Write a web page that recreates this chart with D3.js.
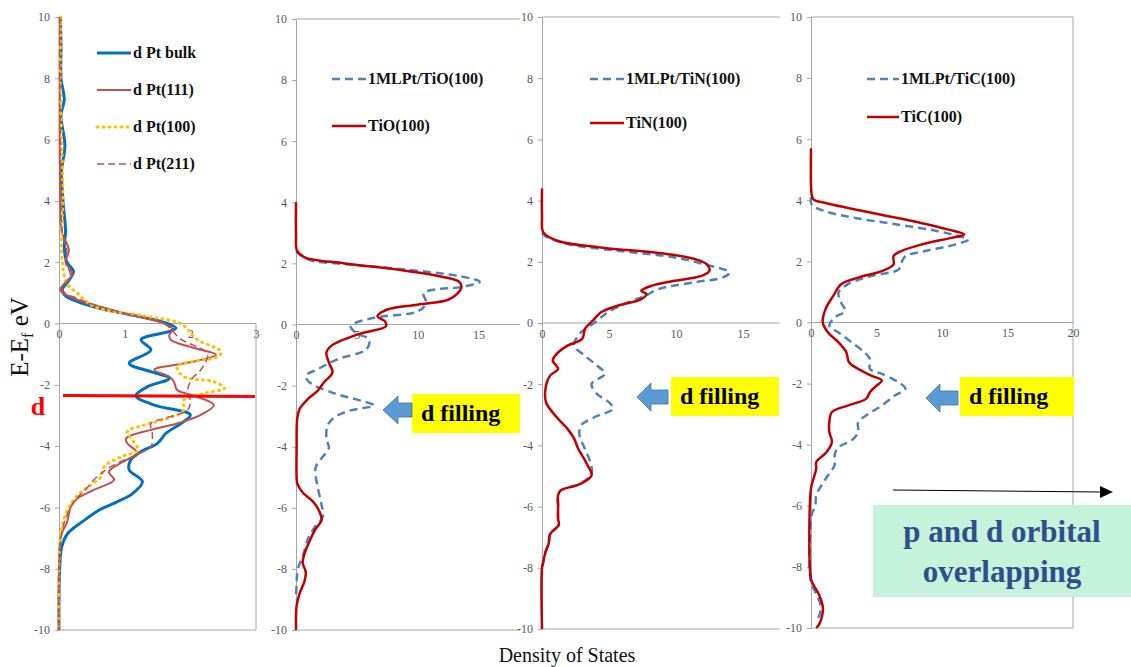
<!DOCTYPE html>
<html>
<head>
<meta charset="utf-8">
<script src="https://cdn.jsdelivr.net/npm/d3@7"></script>
<style>
  body { margin: 0; background: #fff; }
</style>
</head>
<body>
<svg id="chart" width="1131" height="667" font-family="Liberation Serif"></svg>
<script>
// ---- data (energy E-Ef in eV, density of states) ----
const energyTicks = [-10, -8, -6, -4, -2, 0, 2, 4, 6, 8, 10];
const ptTicks = [0, 1, 2, 3];
const tiTicks = [0, 5, 10, 15];
const ticTicks = [0, 5, 10, 15, 20];

const ptBulkE = [10, 9, 8, 7.3, 6.8, 5.8, 5, 4, 3, 2.5, 2, 1.7, 1.4, 1.1, 0.9, 0.7, 0.5, 0.3, 0.1, 0, -0.15, -0.26, -0.53, -0.86, -1.3, -1.57, -1.79, -2.06, -2.36, -2.66, -2.98, -3.26, -3.58, -3.91, -4.18, -4.46, -4.78, -5.16, -5.55, -5.85, -6.1, -6.43, -6.86, -7.3, -8, -9, -10];
const ptBulkD = [0.02, 0.03, 0.03, 0.08, 0.03, 0.09, 0.04, 0.06, 0.1, 0.08, 0.12, 0.22, 0.15, 0.05, 0.1, 0.3, 0.62, 1.05, 1.5, 1.65, 1.78, 1.68, 1.25, 1.4, 1.07, 1.4, 1.68, 1.35, 1.17, 1.45, 2.0, 1.86, 1.63, 1.5, 1.25, 1.09, 1.07, 1.27, 1.12, 0.85, 0.6, 0.38, 0.13, 0.04, 0.01, 0, 0];

const pt111E = [10, 8, 6, 4, 3, 2.4, 2, 1.6, 1.1, 0.8, 0.5, 0.2, 0, -0.19, -0.37, -0.53, -0.8, -1.02, -1.24, -1.51, -1.73, -1.9, -2.17, -2.36, -2.66, -2.98, -3.26, -3.47, -3.75, -3.91, -4.24, -4.46, -4.84, -5.1, -5.43, -5.71, -5.98, -6.5, -6.8, -7.2, -8, -10];
const pt111D = [0.01, 0.01, 0.01, 0.02, 0.04, 0.15, 0.1, 0.2, 0.02, 0.25, 0.7, 1.25, 1.6, 1.73, 1.68, 1.7, 2.06, 2.39, 2.06, 1.45, 1.68, 1.75, 1.8, 2.06, 2.36, 2.16, 1.8, 1.4, 1.02, 1.04, 1.2, 1.02, 0.76, 0.84, 0.53, 0.28, 0.18, 0.12, 0.05, 0.01, 0, 0];

const pt100E = [10, 8, 6, 4, 3, 2, 1.3, 0.99, 0.56, 0.23, 0, -0.2, -0.53, -0.92, -1.08, -1.4, -1.73, -1.9, -2.11, -2.28, -2.5, -2.82, -3.1, -3.31, -3.53, -3.8, -4.13, -4.35, -4.67, -5.0, -5.43, -5.87, -6.5, -7, -8, -10];
const pt100D = [0.03, 0.02, 0.04, 0.06, 0.04, 0.05, 0.12, 0.28, 0.53, 1.35, 1.86, 1.96, 2.11, 2.47, 2.42, 1.8, 1.9, 2.36, 2.52, 2.21, 1.9, 1.9, 1.65, 1.3, 1.04, 1.12, 1.2, 0.94, 0.69, 0.64, 0.38, 0.18, 0.06, 0.02, 0, 0];

const pt211E = [10, 8, 6, 4, 3, 2.4, 2, 1.6, 1.1, 0.8, 0.5, 0.2, 0, -0.5, -1.0, -1.51, -1.79, -2.17, -2.5, -2.82, -3.1, -3.26, -3.58, -4.02, -4.24, -4.67, -5.0, -5.43, -5.8, -6.5, -7, -8, -10];
const pt211D = [0.01, 0.01, 0.02, 0.03, 0.05, 0.12, 0.1, 0.17, 0.05, 0.3, 0.72, 1.25, 1.6, 1.85, 2.26, 2.16, 2.03, 1.96, 2.0, 1.96, 1.6, 1.4, 1.42, 1.4, 1.22, 0.79, 0.58, 0.4, 0.23, 0.08, 0.03, 0, 0];

const tioE = [4, 3, 2.4, 2.2, 2.0, 1.78, 1.57, 1.4, 1.24, 1.03, 0.81, 0.65, 0.49, 0.27, 0.11, -0.05, -0.32, -0.7, -0.92, -1.24, -1.57, -1.89, -2.16, -2.43, -2.76, -3.08, -4, -5, -5.2, -5.5, -5.8, -6.1, -6.4, -6.7, -7.1, -7.5, -7.8, -8.1, -8.4, -8.8, -9.2, -10];
const tioD = [0, 0, 0.1, 0.7, 4, 8.6, 11.9, 13.4, 13.6, 13.3, 12.5, 10, 7.5, 6.7, 7.3, 7.4, 5.1, 2.9, 2.5, 2.7, 3.0, 2.3, 1.8, 1.0, 0.3, 0.1, 0.05, 0.05, 0.1, 0.55, 1.4, 1.9, 2.1, 1.6, 1.1, 0.7, 0.55, 0.8, 0.7, 0.3, 0.05, 0];
const ptTioE = [2.4, 2.1, 2.0, 1.78, 1.57, 1.4, 1.24, 1.03, 0.7, 0.43, 0.22, -0.05, -0.27, -0.49, -0.81, -1.14, -1.46, -1.68, -1.89, -2.22, -2.49, -2.65, -2.81, -3.03, -3.3, -3.73, -4.05, -4.38, -4.7, -5.35, -5.9, -6.3, -6.6, -7, -7.6, -8, -8.5, -9];
const ptTioD = [0, 1.2, 3.4, 9.5, 13.6, 15.1, 13.8, 10.5, 10.7, 10, 6.4, 4.5, 4.9, 6.0, 5.8, 3.4, 1.8, 0.8, 1.1, 2.9, 5.3, 6.4, 4.5, 3.2, 2.6, 2.5, 2.7, 2.1, 1.6, 1.8, 2.1, 2.2, 1.6, 1.0, 0.55, 0.15, 0.05, 0];

const tinE = [4.4, 3.5, 2.96, 2.68, 2.47, 2.25, 2.09, 1.92, 1.71, 1.54, 1.38, 1.22, 1.05, 0.95, 0.78, 0.57, 0.35, 0.13, 0, -0.2, -0.52, -0.74, -1.01, -1.23, -1.5, -1.72, -2.04, -2.59, -3.13, -3.46, -3.78, -4.11, -4.33, -4.65, -4.98, -5.25, -5.47, -5.63, -5.96, -6.4, -6.6, -6.9, -7.2, -7.5, -7.8, -8, -10];
const tinD = [0, 0, 0.1, 1.2, 4.4, 9.4, 11.4, 12.3, 12.5, 11.9, 9.9, 8.2, 7.4, 7.8, 7.4, 5.7, 4.4, 3.9, 3.6, 3.2, 3.0, 1.9, 1.1, 0.8, 1.2, 0.6, 0.3, 0.3, 1.2, 1.9, 2.4, 2.7, 3.0, 3.4, 3.7, 2.9, 1.4, 1.2, 1.2, 1.2, 1.25, 0.6, 0.5, 0.25, 0.1, 0, 0];
const ptTinE = [2.95, 2.85, 2.58, 2.36, 2.14, 1.92, 1.65, 1.49, 1.33, 1.11, 0.89, 0.67, 0.35, 0, -0.2, -0.41, -0.74, -1.07, -1.39, -1.66, -1.99, -2.32, -2.59, -2.8, -3.08, -3.35, -3.67, -4.11, -4.54, -4.9, -5.25, -5.47, -5.63, -5.96, -6.4, -6.6, -6.9, -7.2, -7.5, -7.8, -8];
const ptTinD = [0, 0.2, 1.9, 5.7, 9.9, 12.1, 14.0, 13.5, 11.4, 8.7, 7.7, 6.4, 4.9, 3.9, 3.2, 2.7, 2.4, 3.2, 4.1, 4.7, 3.7, 4.1, 5.0, 5.3, 3.9, 2.9, 2.8, 3.2, 3.6, 3.7, 2.9, 1.4, 1.2, 1.2, 1.2, 1.25, 0.6, 0.5, 0.25, 0.1, 0];

const ticE = [5.7, 4.5, 4.2, 4.02, 3.91, 3.59, 3.26, 3.04, 2.88, 2.77, 2.55, 2.34, 2.17, 1.9, 1.68, 1.47, 1.25, 0.87, 0.43, 0, -0.33, -0.65, -0.98, -1.3, -1.52, -1.74, -1.9, -2.07, -2.28, -2.5, -2.72, -2.93, -3.26, -3.59, -3.91, -4.24, -4.57, -4.78, -5.1, -5.43, -8.4, -8.6, -8.9, -9.3, -9.6, -9.9, -10];
const ticD = [0, 0, 0.05, 0.2, 1.1, 4.6, 8.4, 10.5, 11.7, 10.7, 8.4, 6.9, 6.3, 6.3, 5.4, 3.6, 2.3, 1.7, 1.1, 0.9, 1.3, 2.1, 2.7, 2.9, 3.6, 4.6, 5.4, 5.0, 4.5, 4.2, 2.8, 1.6, 1.4, 1.4, 1.6, 1.2, 0.4, 0.4, 0.2, 0, 0, 0.2, 0.6, 0.9, 0.85, 0.6, 0.4];
const ptTicE = [4.1, 3.86, 3.64, 3.42, 3.2, 2.99, 2.83, 2.72, 2.55, 2.34, 2.17, 1.96, 1.74, 1.52, 1.25, 0.98, 0.65, 0.38, 0.16, -0.11, -0.33, -0.65, -0.98, -1.2, -1.52, -1.68, -1.96, -2.17, -2.39, -2.72, -2.99, -3.26, -3.59, -3.86, -4.08, -4.35, -4.67, -5.0, -5.33, -5.65, -6, -6.3, -8.5, -8.8, -9.2, -9.5, -9.8];
const ptTicD = [0, 0.05, 1.1, 3.4, 6.7, 9.7, 11.2, 12.0, 11, 8.7, 7.2, 6.9, 6.7, 4.6, 2.8, 2.1, 2.3, 2.6, 1.8, 1.4, 2.1, 3.1, 4.1, 4.5, 4.5, 5.4, 6.7, 7.2, 6.4, 5.4, 4.4, 3.6, 3.6, 3.1, 2.1, 1.8, 1.8, 1.3, 0.8, 0.4, 0.33, 0.05, 0, 0.3, 0.7, 0.7, 0.4];

const dBandCenter = -2.35;

// ---- styles ----
const serif = 'Liberation Serif';
const blueSolid = { color: '#0070c0', width: 3, dash: null };
const redThin = { color: '#c0504d', width: 2, dash: null };
const yellowDot = { color: '#ffc000', width: 3, dash: '1,5', round: true };
const redDash = { color: '#c0504d', width: 1.5, dash: '7,4' };
const blueDash = { color: '#4f81bd', width: 2.5, dash: '8,5' };
const redSolid = { color: '#c00000', width: 2.5, dash: null };

const zip = (es, ds) => es.map((e, i) => ({ e: e, d: ds[i] }));
const plain = d => String(d);

const panels = [
  { x0: 59, xMax: 3, xEnd: 256, right: 256, top: 17, bottom: 630, ticks: ptTicks, topLine: false, rightFrom0: true,
    series: [
      { name: 'd Pt bulk', pts: zip(ptBulkE, ptBulkD), st: blueSolid },
      { name: 'd Pt(111)', pts: zip(pt111E, pt111D), st: redThin },
      { name: 'd Pt(100)', pts: zip(pt100E, pt100D), st: yellowDot },
      { name: 'd Pt(211)', pts: zip(pt211E, pt211D), st: redDash }
    ],
    legend: { x: 97, y: 53, dy: 37, len: 34 } },
  { x0: 296, xMax: 15, xEnd: 478.5, right: 520, top: 19, bottom: 630, ticks: tiTicks, topLine: true,
    series: [
      { name: '1MLPt/TiO(100)', pts: zip(ptTioE, ptTioD), st: blueDash },
      { name: 'TiO(100)', pts: zip(tioE, tioD), st: redSolid }
    ],
    legend: { x: 332, y: 79, dy: 47, len: 34 } },
  { x0: 542, xMax: 15, xEnd: 743, right: 780, top: 17, bottom: 629, ticks: tiTicks, topLine: true,
    series: [
      { name: '1MLPt/TiN(100)', pts: zip(ptTinE, ptTinD), st: blueDash },
      { name: 'TiN(100)', pts: zip(tinE, tinD), st: redSolid }
    ],
    legend: { x: 590, y: 79, dy: 44, len: 34 } },
  { x0: 811, xMax: 20, xEnd: 1073, right: 1073, top: 17, bottom: 628, ticks: ticTicks, topLine: true, rightBorder: true,
    series: [
      { name: '1MLPt/TiC(100)', pts: zip(ptTicE, ptTicD), st: blueDash },
      { name: 'TiC(100)', pts: zip(ticE, ticD), st: redSolid }
    ],
    legend: { x: 867, y: 79, dy: 38, len: 32 } }
];

const svg = d3.select('#chart');
const axisGrey = '#a6a6a6';
const labelGrey = '#595959';

panels.forEach(p => {
  const x = d3.scaleLinear().domain([0, p.xMax]).range([p.x0, p.xEnd]);
  const y = d3.scaleLinear().domain([-10, 10]).range([p.bottom, p.top]);
  const g = svg.append('g');

  // frame
  if (p.topLine) g.append('line').attr('x1', p.x0).attr('x2', p.right).attr('y1', p.top).attr('y2', p.top)
    .attr('stroke', axisGrey);
  g.append('line').attr('x1', p.x0).attr('x2', p.right).attr('y1', p.bottom).attr('y2', p.bottom)
    .attr('stroke', axisGrey);
  if (p.rightBorder) g.append('line').attr('x1', p.right).attr('x2', p.right).attr('y1', p.top).attr('y2', p.bottom)
    .attr('stroke', axisGrey);
  if (p.rightFrom0) g.append('line').attr('x1', p.right).attr('x2', p.right).attr('y1', y(0)).attr('y2', p.bottom)
    .attr('stroke', axisGrey);

  // y axis
  const ya = g.append('g').attr('transform', `translate(${p.x0},0)`)
    .call(d3.axisLeft(y).tickValues(energyTicks).tickFormat(plain).tickSize(4).tickSizeOuter(0).tickPadding(5));
  ya.attr('font-family', serif).attr('font-size', 12);
  ya.select('.domain').attr('stroke', axisGrey);
  ya.selectAll('.tick line').attr('stroke', axisGrey);
  ya.selectAll('.tick text').attr('fill', labelGrey);

  // x axis crossing at E = 0
  const xa = g.append('g').attr('transform', `translate(0,${y(0)})`)
    .call(d3.axisBottom(x).tickValues(p.ticks).tickFormat(plain).tickSize(0).tickPadding(6));
  xa.attr('font-family', serif).attr('font-size', 12);
  xa.select('.domain').remove();
  g.append('line').attr('x1', p.x0).attr('x2', p.right).attr('y1', y(0)).attr('y2', y(0)).attr('stroke', axisGrey);
  xa.selectAll('.tick text').attr('fill', labelGrey);

  // curves
  const line = d3.line().x(d => x(d.d)).y(d => y(d.e)).curve(d3.curveCatmullRom.alpha(0.5));
  p.series.forEach(s => {
    g.append('path').datum(s.pts).attr('d', line)
      .attr('fill', 'none').attr('stroke', s.st.color).attr('stroke-width', s.st.width)
      .attr('stroke-dasharray', s.st.dash).attr('stroke-linecap', s.st.round ? 'round' : 'butt');
  });

  // legend
  p.series.forEach((s, i) => {
    const ly = p.legend.y + i * p.legend.dy;
    g.append('line').attr('x1', p.legend.x).attr('x2', p.legend.x + p.legend.len).attr('y1', ly).attr('y2', ly)
      .attr('stroke', s.st.color).attr('stroke-width', s.st.width)
      .attr('stroke-dasharray', s.st.dash).attr('stroke-linecap', s.st.round ? 'round' : 'butt');
    g.append('text').attr('x', p.legend.x + p.legend.len + 2).attr('y', ly + 5)
      .attr('font-family', serif).attr('font-size', 16).attr('font-weight', 'bold').attr('fill', '#111').text(s.name);
  });

  p.y = y;
});

// d-band center marker in first panel
const p1 = panels[0];
svg.append('line').attr('x1', 63).attr('x2', 255)
  .attr('y1', p1.y(dBandCenter)).attr('y2', p1.y(dBandCenter) + 1)
  .attr('stroke', '#ff0000').attr('stroke-width', 3);
svg.append('text').attr('x', 38).attr('y', p1.y(dBandCenter) + 19).attr('text-anchor', 'middle')
  .attr('font-family', serif).attr('font-size', 26).attr('font-weight', 'bold').attr('fill', '#ff0000').text('d');

// y axis title
const yt = svg.append('text').attr('transform', 'translate(28,337) rotate(-90)')
  .attr('text-anchor', 'middle').attr('font-family', serif).attr('font-size', 25).attr('fill', '#111');
yt.append('tspan').text('E-E');
yt.append('tspan').attr('font-size', 16).attr('dy', 5).text('f');
yt.append('tspan').attr('dy', -5).text(' eV');

// x axis title
svg.append('text').attr('x', 567).attr('y', 662).attr('text-anchor', 'middle')
  .attr('font-family', serif).attr('font-size', 20).attr('fill', '#111').text('Density of States');

// "d filling" callouts
const callouts = [
  { box: [412, 394, 108, 39], tip: 383, head: 398, tail: 412, cy: 410 },
  { box: [671, 377, 108, 39], tip: 637, head: 651, tail: 668, cy: 397 },
  { box: [960, 377, 114, 39], tip: 926, head: 940, tail: 958, cy: 398 }
];
callouts.forEach(c => {
  svg.append('rect').attr('x', c.box[0]).attr('y', c.box[1]).attr('width', c.box[2]).attr('height', c.box[3])
    .attr('fill', '#ffff00');
  svg.append('text').attr('x', c.box[0] + 9).attr('y', c.box[1] + 27)
    .attr('font-family', serif).attr('font-size', 24).attr('font-weight', 'bold').attr('fill', '#000').text('d filling');
  const hh = 14, sh = 7;
  const pts = [[c.tip, c.cy], [c.head, c.cy - hh], [c.head, c.cy - sh], [c.tail, c.cy - sh],
               [c.tail, c.cy + sh], [c.head, c.cy + sh], [c.head, c.cy + hh]];
  svg.append('polygon').attr('points', pts.map(q => q.join(',')).join(' '))
    .attr('fill', '#5b9bd5').attr('stroke', '#41719c').attr('stroke-width', 0.8);
});

// p/d overlap annotation
svg.append('line').attr('x1', 893).attr('y1', 490).attr('x2', 1101).attr('y2', 492)
  .attr('stroke', '#000').attr('stroke-width', 1);
svg.append('polygon').attr('points', '1113,492 1100,486 1100,498').attr('fill', '#000');
svg.append('rect').attr('x', 873).attr('y', 505).attr('width', 258).attr('height', 92).attr('fill', '#c6f1da');
svg.append('text').attr('x', 1002).attr('y', 542).attr('text-anchor', 'middle').attr('font-family', serif)
  .attr('font-size', 31).attr('font-weight', 'bold').attr('fill', '#2e4e8c').text('p and d orbital');
svg.append('text').attr('x', 1002).attr('y', 582).attr('text-anchor', 'middle').attr('font-family', serif)
  .attr('font-size', 31).attr('font-weight', 'bold').attr('fill', '#2e4e8c').text('overlapping');
</script>
</body>
</html>
